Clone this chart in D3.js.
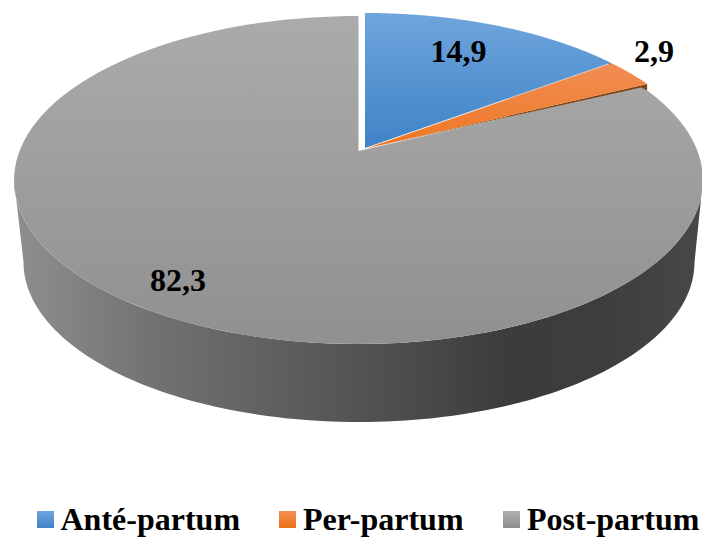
<!DOCTYPE html>
<html>
<head>
<meta charset="utf-8">
<script src="https://cdn.jsdelivr.net/npm/d3@7"></script>
<style>
  html, body { margin: 0; padding: 0; background: #fff; }
  svg { display: block; }
  text { font-family: "Liberation Serif", "Times New Roman", serif; font-weight: bold; fill: #000; }
</style>
</head>
<body>
<svg id="chart" width="702" height="539"></svg>
<script>
// Share of cases by period, in percent
const categories = ["Anté-partum", "Per-partum", "Post-partum"];
const values = [14.9, 2.9, 82.3];

// Slice centres: the first two wedges sit slightly pulled out of the disc
const sliceOrigins = [[365, 148], [366, 148.5], [358.5, 151]];
const sliceSpan = [337, 337, 339];
const labelPositions = [[458.5, 62], [654, 62], [178, 291]];
const legendSwatchX = [37, 279, 503];
const legendTextX = [60.5, 303, 527];

const svg = d3.select("#chart");
const defs = svg.append("defs");

function vGradient(id, top, bottom) {
  const g = defs.append("linearGradient").attr("id", id)
    .attr("x1", 0).attr("y1", 0).attr("x2", 0).attr("y2", 1);
  g.append("stop").attr("offset", 0).attr("stop-color", top);
  g.append("stop").attr("offset", 1).attr("stop-color", bottom);
}
const topShades = [["#6fa5dc", "#3f83c6"], ["#f18e54", "#ef7622"], ["#ababab", "#909090"]];
topShades.forEach((s, i) => vGradient("top" + i, s[0], s[1]));
const swatchShades = [["#6fa5dc", "#3f83c6"], ["#f28f56", "#ee7016"], ["#b0b0b0", "#8c8c8c"]];
swatchShades.forEach((s, i) => vGradient("swatch" + i, s[0], s[1]));

const rimGradient = defs.append("linearGradient").attr("id", "rim")
  .attr("gradientUnits", "userSpaceOnUse")
  .attr("x1", 14).attr("y1", 0).attr("x2", 702).attr("y2", 0);
[[0, "#8f8f8f"], [0.2, "#727272"], [0.5, "#535353"], [0.72, "#3c3c3c"], [0.85, "#3d3d3d"], [1, "#484848"]]
  .forEach(s => rimGradient.append("stop").attr("offset", s[0]).attr("stop-color", s[1]));

// Perspective view of a flat disc: the far side is foreshortened
const tilt = 0.177;
const depthScale = 158.9;
function project(angle, origin, span, scale = 1) {
  const u = Math.sin(angle), v = Math.cos(angle), w = 1 + tilt * v;
  return [origin[0] + span * scale * u / w, origin[1] - depthScale * scale * v / w];
}
const arcSamples = (a0, a1) => d3.range(0, 121).map(i => a0 + (a1 - a0) * i / 120);
const line = d3.line().curve(d3.curveLinear);

// Outer wall of the disc, between the silhouette points of the top and bottom faces
const edge = Math.asin(Math.sqrt(1 - tilt * tilt));
const frontArc = arcSamples(Math.PI - edge, Math.PI + edge);
const discOrigin = sliceOrigins[2], discSpan = sliceSpan[2];
const baseOrigin = [359, 234];
const wall = frontArc.map(a => project(a, discOrigin, discSpan))
  .concat(frontArc.slice().reverse().map(a => project(a, baseOrigin, discSpan, 0.974)));
svg.append("path").attr("d", line(wall) + "Z").attr("fill", "url(#rim)");

const slices = d3.pie().sort(null).value(d => d)(values);
const wedge = i => {
  const s = slices[i];
  return [sliceOrigins[i]].concat(arcSamples(s.startAngle, s.endAngle)
    .map(a => project(a, sliceOrigins[i], sliceSpan[i])));
};

// Large slice goes down first, then the cut faces, then the small wedges over them
const drawTop = i => svg.append("path").attr("d", line(wedge(i)) + "Z").attr("fill", `url(#top${i})`);
drawTop(2);

const cutFace = (i, fill, drop, inset) => {
  const apex = sliceOrigins[i];
  const tip = project(slices[i].endAngle, apex, sliceSpan[i]);
  svg.append("path")
    .attr("d", line([apex, tip, [tip[0], tip[1] + drop], [tip[0] - inset, tip[1] + drop * 0.55]]) + "Z")
    .attr("fill", fill);
};
cutFace(1, "#7f4412", 6.5, 6);
drawTop(1);
cutFace(0, "#2f5f8e", 2, 2);
drawTop(0);

// Value labels
const decimal = v => String(v).replace(".", ",");
svg.selectAll("text.value").data(values).join("text")
  .attr("class", "value")
  .attr("x", (d, i) => labelPositions[i][0])
  .attr("y", (d, i) => labelPositions[i][1])
  .attr("text-anchor", "middle")
  .attr("font-size", 32)
  .text(decimal);

// Legend along the bottom edge
svg.selectAll("rect.key").data(categories).join("rect")
  .attr("class", "key")
  .attr("x", (d, i) => legendSwatchX[i])
  .attr("y", 511).attr("width", 17).attr("height", 17)
  .attr("fill", (d, i) => `url(#swatch${i})`);
svg.selectAll("text.key").data(categories).join("text")
  .attr("class", "key")
  .attr("x", (d, i) => legendTextX[i])
  .attr("y", 530)
  .attr("font-size", 32)
  .text(d => d);
</script>
</body>
</html>
